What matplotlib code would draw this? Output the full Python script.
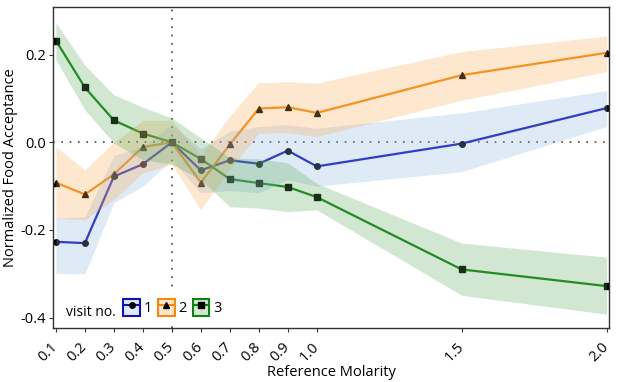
import matplotlib
matplotlib.use('Agg')
import matplotlib.pyplot as plt
from matplotlib.patches import Rectangle
from matplotlib.lines import Line2D

plt.rcParams['font.family'] = ['Open Sans', 'DejaVu Sans']
plt.rcParams['axes.unicode_minus'] = False

# reference molarity (x) and normalized food acceptance per visit
molarity = [0.1, 0.2, 0.3, 0.4, 0.5, 0.6, 0.7, 0.8, 0.9, 1.0, 1.5, 2.0]
visit1 = [-0.227, -0.230, -0.078, -0.050, 0.0, -0.064, -0.041, -0.049, -0.019, -0.055, -0.003, 0.078]
visit2 = [-0.092, -0.119, -0.073, -0.011, 0.0, -0.092, -0.005, 0.077, 0.080, 0.067, 0.153, 0.204]
visit3 = [0.232, 0.125, 0.050, 0.020, 0.0, -0.038, -0.084, -0.093, -0.102, -0.125, -0.290, -0.328]

# error bands (lower, upper)
visit1_lo = [-0.299, -0.300, -0.138, -0.100, -0.040, -0.115, -0.110, -0.115, -0.085, -0.100, -0.067, 0.036]
visit1_hi = [-0.173, -0.170, -0.030, -0.010, 0.040, -0.015, 0.025, 0.036, 0.040, 0.032, 0.067, 0.118]
visit2_lo = [-0.173, -0.177, -0.130, -0.070, -0.050, -0.154, -0.060, 0.020, 0.022, 0.013, 0.096, 0.161]
visit2_hi = [-0.010, -0.063, 0.000, 0.050, 0.050, -0.030, 0.060, 0.136, 0.138, 0.135, 0.207, 0.242]
visit3_lo = [0.188, 0.074, -0.002, -0.040, -0.050, -0.085, -0.147, -0.150, -0.158, -0.154, -0.349, -0.392]
visit3_hi = [0.273, 0.176, 0.108, 0.080, 0.055, 0.010, -0.035, -0.038, -0.047, -0.094, -0.230, -0.262]

visit_labels = ['1', '2', '3']
line_colors = ['#1010b8', '#f28a10', '#108010']
fill_colors = ['#8ab4e0', '#fbaa55', '#5aaa5a']
markers = ['o', '^', 's']

xticks = [0.1, 0.2, 0.3, 0.4, 0.5, 0.6, 0.7, 0.8, 0.9, 1.0, 1.5, 2.0]
yticks = [-0.4, -0.2, 0.0, 0.2]

fig = plt.figure(figsize=(6.17, 3.82), dpi=100)
ax = fig.add_axes([0.0859, 0.1414, 0.9011, 0.8403])

series = [(visit1, visit1_lo, visit1_hi), (visit2, visit2_lo, visit2_hi), (visit3, visit3_lo, visit3_hi)]
handles = []
for i, (vals, lo, hi) in enumerate(series):
    ax.plot(molarity, vals, color=line_colors[i], lw=1.6, marker=markers[i],
            markersize=4, markerfacecolor='black', markeredgecolor='black', zorder=2)
    ax.fill_between(molarity, lo, hi, color=fill_colors[i], alpha=0.28, lw=0, zorder=3)
    box = Rectangle((0, 0), 1, 1, facecolor=fill_colors[i], alpha=0.28, edgecolor='none')
    edge = Rectangle((0, 0), 1, 1, facecolor='none', edgecolor=line_colors[i], lw=1.5)
    ln = Line2D([], [], color=line_colors[i], lw=1.5, marker=markers[i],
                markersize=4, markerfacecolor='black', markeredgecolor='black')
    handles.append((box, edge, ln))

ax.axhline(0, color='#444444', lw=1.2, ls=(0, (1, 4)), zorder=1)
ax.axvline(0.5, color='#444444', lw=1.2, ls=(0, (1, 4)), zorder=1)

ax.set_xlim(0.09, 2.008)
ax.set_ylim(-0.4235, 0.3085)
ax.set_xticks(xticks)
ax.set_xticklabels([f'{t:.1f}' for t in xticks], rotation=45, ha='right', va='center',
                   rotation_mode='anchor')
ax.set_yticks(yticks)
ax.set_yticklabels([f'{t:.1f}' for t in yticks])
ax.tick_params(labelsize=10.5, length=3, width=0.8, colors='#333333', labelcolor='black', pad=2)
ax.tick_params(axis='x', pad=9)
for s in ax.spines.values():
    s.set_color('#333333')
    s.set_linewidth(1.0)

ax.set_xlabel('Reference Molarity', fontsize=10.5, labelpad=0)
ax.set_ylabel('Normalized Food Acceptance', fontsize=10.5, labelpad=2)

leg = ax.legend(handles, visit_labels, ncol=3, loc='lower left', bbox_to_anchor=(0.108, 0.005),
                frameon=True, facecolor='white', edgecolor='none', framealpha=1,
                fontsize=10.5, handlelength=1.15, handleheight=1.45, handletextpad=0.25,
                columnspacing=0.4, borderpad=0.4, borderaxespad=0.3)
leg.set_zorder(5)
ax.text(0.023, 0.047, 'visit no.', transform=ax.transAxes, fontsize=10,
        va='center', ha='left', zorder=6)

fig.savefig('out.png', dpi=100)
